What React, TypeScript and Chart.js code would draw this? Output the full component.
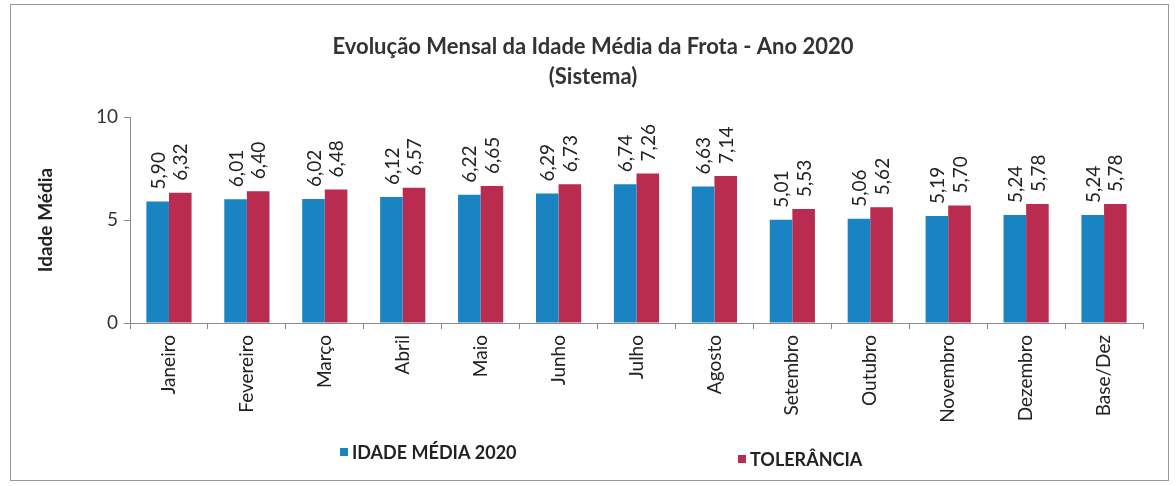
import React, { useEffect, useRef } from "react";
import { Chart, registerables } from "chart.js";

Chart.register(...registerables);

const categories = ["Janeiro", "Fevereiro", "Março", "Abril", "Maio", "Junho", "Julho", "Agosto", "Setembro", "Outubro", "Novembro", "Dezembro", "Base/Dez"];
const idadeMedia = [5.9, 6.01, 6.02, 6.12, 6.22, 6.29, 6.74, 6.63, 5.01, 5.06, 5.19, 5.24, 5.24];
const tolerancia = [6.32, 6.4, 6.48, 6.57, 6.65, 6.73, 7.26, 7.14, 5.53, 5.62, 5.7, 5.78, 5.78];
const seriesNames = ["IDADE MÉDIA 2020", "TOLERÂNCIA"];
const titleLines = ["Evolução Mensal da Idade Média da Frota - Ano 2020", "(Sistema)"];
const yTitle = "Idade Média";

const FONT = "Lato, 'Open Sans', sans-serif";
const BLUE = "#1a84c3";
const RED = "#b92c50";

const fmt = (v: number) => v.toFixed(2).replace(".", ",");

const extras = {
  id: "extras",
  afterDraw(chart: any) {
    const ctx = chart.ctx;
    ctx.save();
    // frame
    ctx.strokeStyle = "#9a9a9a";
    ctx.lineWidth = 1;
    ctx.strokeRect(10.5, 4.5, 1158, 476);
    // title
    ctx.fillStyle = "#333";
    ctx.font = `bold 22px ${FONT}`;
    ctx.textAlign = "center";
    ctx.textBaseline = "middle";
    ctx.fillText(titleLines[0], 593, 47);
    ctx.fillText(titleLines[1], 593, 77);
    // y title
    ctx.save();
    ctx.translate(46, 220);
    ctx.rotate(-Math.PI / 2);
    ctx.font = `bold 19px ${FONT}`;
    ctx.fillStyle = "#222";
    ctx.fillText(yTitle, 0, 0);
    ctx.restore();
    // data labels
    ctx.font = `19px ${FONT}`;
    ctx.fillStyle = "#222";
    chart.data.datasets.forEach((ds: any, i: number) => {
      const meta = chart.getDatasetMeta(i);
      meta.data.forEach((bar: any, j: number) => {
        ctx.save();
        ctx.translate(bar.x + 1, bar.y - 12);
        ctx.rotate(-Math.PI / 2);
        ctx.textAlign = "left";
        ctx.textBaseline = "middle";
        ctx.fillText(fmt(ds.data[j]), 0, 0);
        ctx.restore();
      });
    });
    // legend
    ctx.font = `bold 18px ${FONT}`;
    ctx.textAlign = "left";
    ctx.textBaseline = "middle";
    ctx.fillStyle = BLUE;
    ctx.fillRect(340, 448, 8, 8);
    ctx.fillStyle = "#222";
    ctx.fillText(seriesNames[0], 352, 453);
    ctx.fillStyle = RED;
    ctx.fillRect(738, 455, 8, 8);
    ctx.fillStyle = "#222";
    ctx.fillText(seriesNames[1], 750, 460);
    ctx.restore();
  },
};

export default function App() {
  const ref = useRef<HTMLCanvasElement>(null);
  useEffect(() => {
    const chart = new Chart(ref.current!, {
      type: "bar",
      data: {
        labels: categories,
        datasets: [
          { label: seriesNames[0], data: idadeMedia, backgroundColor: BLUE, categoryPercentage: 0.58, barPercentage: 1 },
          { label: seriesNames[1], data: tolerancia, backgroundColor: RED, categoryPercentage: 0.58, barPercentage: 1 },
        ],
      },
      options: {
        responsive: false,
        animation: false,
        layout: { padding: { top: 117, left: 0, right: 33, bottom: 0 } },
        plugins: { legend: { display: false }, title: { display: false }, tooltip: { enabled: false } },
        scales: {
          x: {
            afterFit: (s: any) => { s.height = 163; },
            grid: { display: true, drawOnChartArea: false, color: "#8a8a8a", tickLength: 6, offset: true },
            border: { display: true, color: "#8a8a8a" },
            ticks: { minRotation: 90, maxRotation: 90, autoSkip: false, color: "#222", font: { family: FONT, size: 19 }, padding: 6 },
          },
          y: {
            min: 0,
            max: 10,
            afterFit: (s: any) => { s.width = 130; },
            grid: { display: true, drawOnChartArea: false, color: "#8a8a8a", tickLength: 6 },
            border: { display: true, color: "#8a8a8a" },
            ticks: { stepSize: 5, color: "#333", font: { family: FONT, size: 19 }, padding: 6 },
          },
        },
      },
      plugins: [extras],
    });
    return () => chart.destroy();
  }, []);
  return (
    <div style={{ position: "fixed", left: 0, top: 0, width: 1176, height: 486, background: "#fff" }}>
      <canvas ref={ref} width={1176} height={486} style={{ width: 1176, height: 486 }} />
    </div>
  );
}
